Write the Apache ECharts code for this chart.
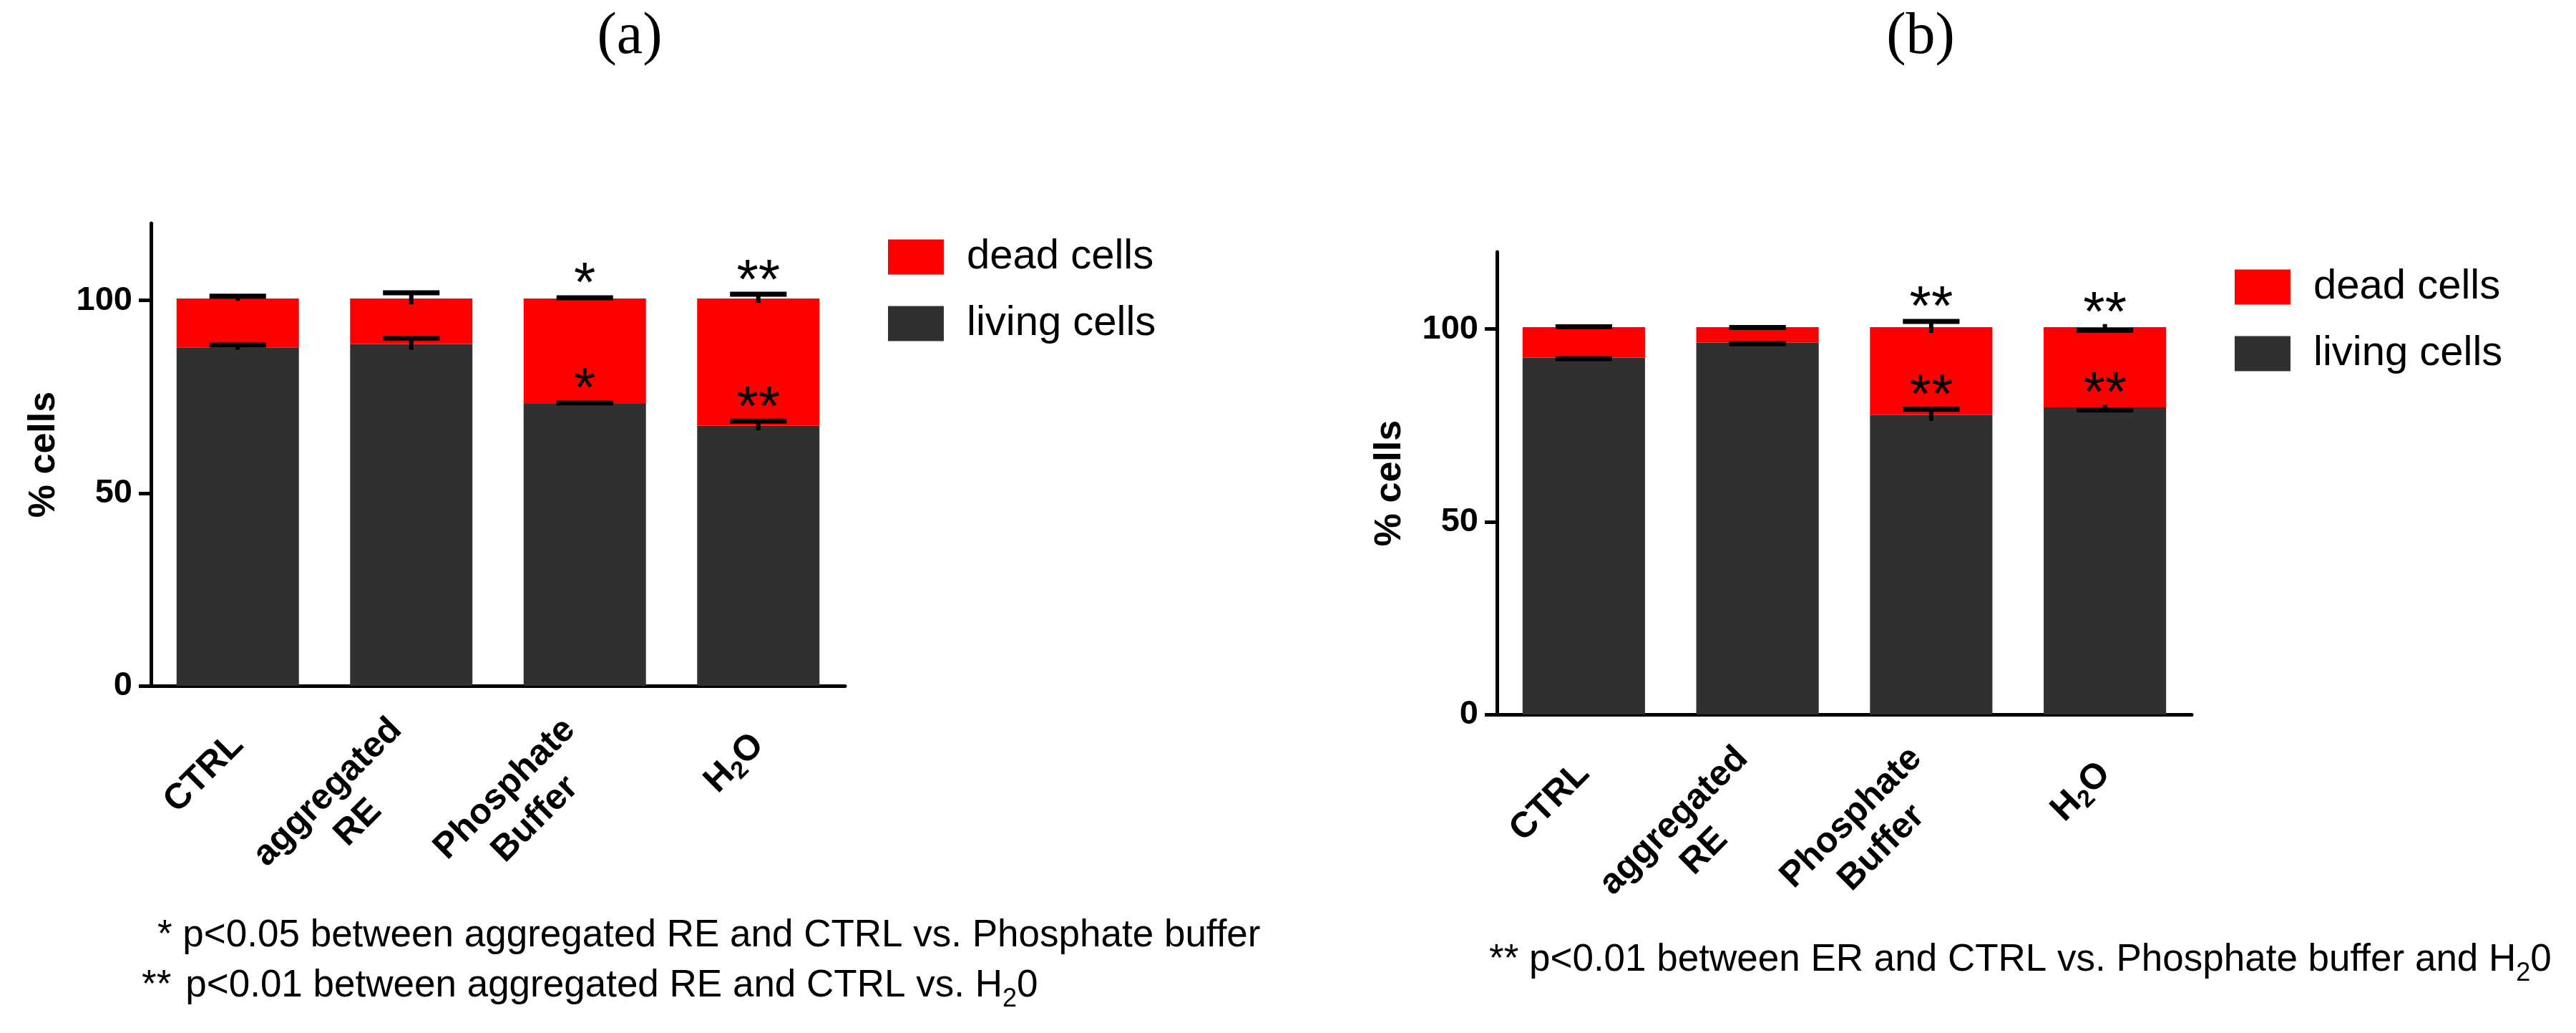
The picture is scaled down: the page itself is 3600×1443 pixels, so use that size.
<!DOCTYPE html>
<html>
<head>
<meta charset="utf-8">
<script src="https://cdn.jsdelivr.net/npm/echarts@6/dist/echarts.min.js"></script>
<style>
html, body { margin: 0; padding: 0; background: #fff; }
#chart { width: 3600px; height: 1443px; }
</style>
</head>
<body>
<div id="chart"></div>
<script>
// ---- data ----
const categories = ['CTRL', 'aggregated\nRE', 'Phosphate\nBuffer', 'H₂O'];
const yTicks = [0, 50, 100];
const seriesNames = ['dead cells', 'living cells'];

// panel (a)
const livingA = [87.8, 88.7, 73.2, 67.5];
const deadA = [12.7, 11.8, 27.3, 33.0];
const livingSdA = [0.6, 1.5, 0.2, 1.2];
const deadSdA = [0.6, 1.5, 0.2, 1.1];
const topStarsA = ['', '', '*', '**'];
const midStarsA = ['', '', '*', '**'];

// panel (b)
const livingB = [92.6, 96.5, 77.7, 79.7];
const deadB = [7.9, 4.0, 22.8, 20.8];
const livingSdB = [-0.3, -0.3, 1.5, -0.7];
const deadSdB = [0.1, -0.1, 1.5, -0.8];
const topStarsB = ['', '', '**', '**'];
const midStarsB = ['', '', '**', '**'];

// ---- style ----
const FONT = '"Liberation Sans", Arial, sans-serif';
const SERIF = '"Liberation Serif", "Times New Roman", serif';
const DARK = '#303030';
const RED = '#ff0000';

function fmtCat(v) {
  return v.split('\n').map(function (line) {
    return '{b|' + line.replace('₂', '}{s|2}{b|') + '}';
  }).join('\n');
}

function xAxisFor(gi) {
  return {
    type: 'category', gridIndex: gi, data: categories,
    axisLine: { lineStyle: { color: '#000', width: 5 } },
    axisTick: { alignWithLabel: true, length: 17, lineStyle: { color: '#000', width: 5 } },
    axisLabel: {
      interval: 0, rotate: 45, margin: 75, formatter: fmtCat,
      rich: {
        b: { fontSize: 50, fontWeight: 'bold', fontFamily: FONT, color: '#000', lineHeight: 60, align: 'center' },
        s: { fontSize: 34, fontWeight: 'bold', fontFamily: FONT, color: '#000', lineHeight: 40, align: 'center', verticalAlign: 'bottom' }
      }
    },
    splitLine: { show: false }
  };
}

function yAxisFor(gi) {
  return {
    type: 'value', gridIndex: gi, min: 0, max: 120,
    name: '% cells', nameLocation: 'middle', nameRotate: 90, nameGap: 123,
    nameTextStyle: { fontSize: 52, fontWeight: 'bold', fontFamily: FONT, color: '#000' },
    axisLine: { show: true, lineStyle: { color: '#000', width: 5 } },
    axisTick: { show: true, length: 17, customValues: yTicks, lineStyle: { color: '#000', width: 5 } },
    axisLabel: { customValues: yTicks, margin: 26, fontSize: 47, fontWeight: 'bold', fontFamily: FONT, color: '#000' },
    splitLine: { show: false }
  };
}

function barSeries(gi, name, data, color, stack) {
  return {
    type: 'bar', name: name, xAxisIndex: gi, yAxisIndex: gi, stack: stack,
    data: data, barWidth: '70.5%', itemStyle: { color: color }, silent: true
  };
}

function errorSeries(gi, living, dead, livingSd, deadSd, topStars, midStars) {
  return {
    type: 'custom', xAxisIndex: gi, yAxisIndex: gi, silent: true, z: 10,
    data: living.map(function (v, i) { return [i, v, dead[i], livingSd[i], deadSd[i]]; }),
    encode: { x: 0, y: 1 },
    renderItem: function (params, api) {
      const i = params.dataIndex;
      const lv = api.value(1), dv = api.value(2), ls = api.value(3), ds = api.value(4);
      const band = api.size([1, 0])[0];
      const capW = band * 0.326;
      const children = [];
      function errBar(top, sd) {
        const a = api.coord([i, top - Math.abs(sd)]);
        const b = api.coord([i, top + Math.abs(sd)]);
        const c = api.coord([i, top + sd]);
        children.push({ type: 'line', shape: { x1: a[0], y1: a[1], x2: b[0], y2: b[1] },
          style: { stroke: '#000', lineWidth: 6 } });
        children.push({ type: 'rect', shape: { x: c[0] - capW / 2, y: c[1] - 3.5, width: capW, height: 7 },
          style: { fill: '#000' } });
        return api.coord([i, top + Math.max(sd, 0)]);
      }
      function star(txt, p) {
        if (!txt) return;
        children.push({ type: 'text', x: p[0], y: p[1] - 16,
          style: { text: txt, fontSize: 78, fontFamily: FONT, fill: '#000', align: 'center', verticalAlign: 'middle' } });
      }
      const pl = errBar(lv, ls);
      const pd = errBar(lv + dv, ds);
      star(midStars[i], pl);
      star(topStars[i], pd);
      return { type: 'group', children: children };
    }
  };
}

function legendFor(left, top) {
  return {
    left: left, top: top, orient: 'vertical', padding: 0, itemGap: 35,
    itemWidth: 78, itemHeight: 49, icon: 'rect', selectedMode: false,
    data: seriesNames,
    textStyle: { fontSize: 58, fontFamily: FONT, color: '#000', lineHeight: 58, padding: [0, 0, 0, 27] }
  };
}

const noteRich = {
  n: { fontSize: 53, fontFamily: FONT, fontWeight: 'normal', color: '#000', lineHeight: 74 },
  st: { fontSize: 53, fontFamily: FONT, fontWeight: 'normal', color: '#000', lineHeight: 74, padding: [0, 20, 0, 0] },
  s: { fontSize: 36, fontFamily: FONT, fontWeight: 'normal', color: '#000', lineHeight: 40, verticalAlign: 'bottom' }
};

function note(text, left, top) {
  return { text: text, left: left, top: top, padding: 0,
    textStyle: { fontWeight: 'normal', fontFamily: FONT, fontSize: 53, color: '#000', rich: noteRich } };
}

const option = {
  animation: false,
  backgroundColor: '#fff',
  title: [
    { text: '(a)', left: 880, top: 11, textAlign: 'center', padding: 0,
      textStyle: { fontFamily: SERIF, fontSize: 82, fontWeight: 'normal', color: '#000' } },
    { text: '(b)', left: 2684, top: 11, textAlign: 'center', padding: 0,
      textStyle: { fontFamily: SERIF, fontSize: 82, fontWeight: 'normal', color: '#000' } },
    note('{n|* p<0.05 between aggregated RE and CTRL vs. Phosphate buffer}', 220, 1270),
    note('{st|**}{n|p<0.01 between aggregated RE and CTRL vs. H}{s|2}{n|0}', 198, 1340),
    note('{n|** p<0.01 between ER and CTRL vs. Phosphate buffer and H}{s|2}{n|0}', 2081, 1304)
  ],
  legend: [legendFor(1241, 330), legendFor(3123, 372)],
  grid: [
    { left: 211, top: 312, width: 970, height: 646 },
    { left: 2092, top: 352, width: 971, height: 646 }
  ],
  xAxis: [xAxisFor(0), xAxisFor(1)],
  yAxis: [yAxisFor(0), yAxisFor(1)],
  series: [
    barSeries(0, 'living cells', livingA, DARK, 'a'),
    barSeries(0, 'dead cells', deadA, RED, 'a'),
    errorSeries(0, livingA, deadA, livingSdA, deadSdA, topStarsA, midStarsA),
    barSeries(1, 'living cells', livingB, DARK, 'b'),
    barSeries(1, 'dead cells', deadB, RED, 'b'),
    errorSeries(1, livingB, deadB, livingSdB, deadSdB, topStarsB, midStarsB)
  ]
};

const chart = echarts.init(document.getElementById('chart'), null, { renderer: 'canvas' });
chart.setOption(option);
</script>
</body>
</html>
